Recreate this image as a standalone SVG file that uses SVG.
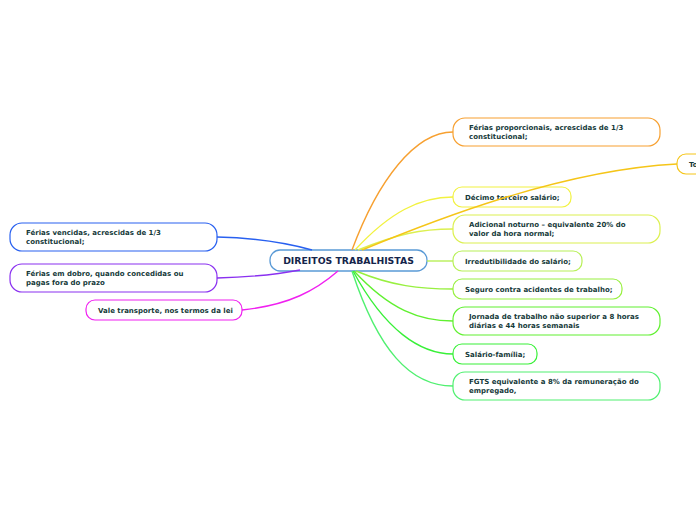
<svg xmlns="http://www.w3.org/2000/svg" width="696" height="520" viewBox="0 0 696 520">
<style>
.n{fill:#fff;stroke-width:1.2}
.t{font-family:"DejaVu Sans",Verdana,sans-serif;font-weight:bold;font-size:7px;fill:#163a3a}
.c{fill:none;stroke-width:1.4}
</style>
<rect width="696" height="520" fill="#fff"/>
<g id="central">
<rect x="270" y="250" width="157" height="21" rx="10" fill="#fff" stroke="#5a9ad6" stroke-width="1.3"/>
<text x="348.5" y="264.2" text-anchor="middle" font-family="DejaVu Sans,Verdana,sans-serif" font-weight="bold" font-size="9.3" fill="#14244a">DIREITOS TRABALHISTAS</text>
</g>
<g id="ferias-proporcionais">
<rect class="n" x="453" y="118" width="207" height="28" rx="12" stroke="#f7a030"/>
<text class="t" x="469" y="130">Férias proporcionais, acrescidas de 1/3</text>
<text class="t" x="469" y="139">constitucional;</text>
</g>
<g id="to">
<rect class="n" x="677" y="154" width="60" height="20" rx="9" stroke="#f5c518"/>
<text class="t" x="689" y="166.5">To</text>
</g>
<g id="decimo">
<rect class="n" x="453" y="187" width="118" height="20" rx="9" stroke="#f2f240"/>
<text class="t" x="465" y="199.5">Décimo terceiro salário;</text>
</g>
<g id="adicional">
<rect class="n" x="453" y="215" width="207" height="28" rx="12" stroke="#dcf050"/>
<text class="t" x="469" y="227">Adicional noturno – equivalente 20% do</text>
<text class="t" x="469" y="236">valor da hora normal;</text>
</g>
<g id="irredutibilidade">
<rect class="n" x="453" y="251" width="129" height="20" rx="9" stroke="#b8f058"/>
<text class="t" x="465" y="263.5">Irredutibilidade do salário;</text>
</g>
<g id="seguro">
<rect class="n" x="453" y="279" width="169" height="20" rx="9" stroke="#98f040"/>
<text class="t" x="465" y="291.5">Seguro contra acidentes de trabalho;</text>
</g>
<g id="jornada">
<rect class="n" x="453" y="307" width="207" height="28" rx="12" stroke="#60f030"/>
<text class="t" x="469" y="319">Jornada de trabalho não superior a 8 horas</text>
<text class="t" x="469" y="328">diárias e 44 horas semanais</text>
</g>
<g id="salario-familia">
<rect class="n" x="453" y="344" width="84" height="20" rx="9" stroke="#38f038"/>
<text class="t" x="465" y="356.5">Salário-família;</text>
</g>
<g id="fgts">
<rect class="n" x="453" y="372" width="207" height="28" rx="12" stroke="#50f070"/>
<text class="t" x="469" y="384">FGTS equivalente a 8% da remuneração do</text>
<text class="t" x="469" y="393">empregado,</text>
</g>
<g id="ferias-vencidas">
<rect class="n" x="10" y="223" width="207" height="28" rx="12" stroke="#2860f0"/>
<text class="t" x="26" y="235">Férias vencidas, acrescidas de 1/3</text>
<text class="t" x="26" y="244">constitucional;</text>
</g>
<g id="ferias-dobro">
<rect class="n" x="10" y="264" width="207" height="28" rx="12" stroke="#8a30f0"/>
<text class="t" x="26" y="276">Férias em dobro, quando concedidas ou</text>
<text class="t" x="26" y="285">pagas fora do prazo</text>
</g>
<g id="vale-transporte">
<rect class="n" x="86" y="300" width="156" height="20" rx="9" stroke="#f020f0"/>
<text class="t" x="98" y="312.5">Vale transporte, nos termos da lei</text>
</g>
<g id="connectors">
<path class="c" stroke="#f7a030" d="M352,250 C378,180 415,132 453,132"/>
<path class="c" stroke="#f2f240" d="M355,250 C390,212 420,197 453,197"/>
<path class="c" stroke="#dcf050" d="M358,250 C398,234 420,229 453,229"/>
<path class="c" stroke="#b8f058" d="M427,261 L453,261"/>
<path class="c" stroke="#98f040" d="M356,271 C392,286 420,289 453,289"/>
<path class="c" stroke="#60f030" d="M354,271 C390,310 420,321 453,321"/>
<path class="c" stroke="#38f038" d="M353,271 C385,330 420,354 453,354"/>
<path class="c" stroke="#50f070" d="M352,271 C378,350 410,386 453,386"/>
<path class="c" stroke="#2860f0" d="M217,237 C260,238 290,244 312,250"/>
<path class="c" stroke="#8a30f0" d="M217,278 C252,277 280,274 300,270"/>
<path class="c" stroke="#f020f0" d="M242,310 C290,305 316,290 338,271"/>
<path class="c" stroke="#f5c518" d="M362,250 C430,222 560,170 677,164"/>
</g>
</svg>
